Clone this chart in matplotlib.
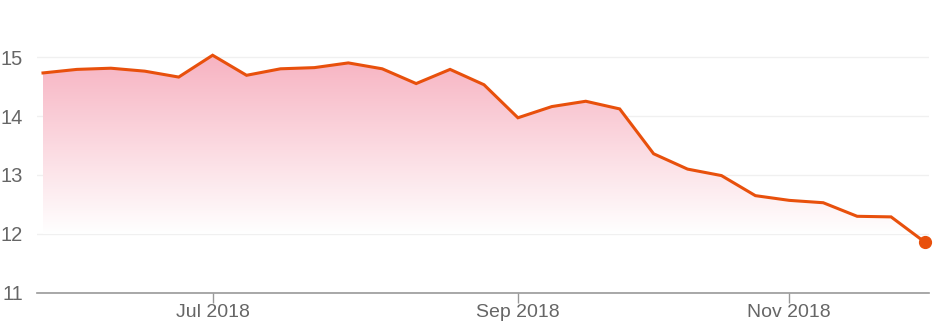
import numpy as np
import matplotlib.pyplot as plt
from matplotlib.colors import LinearSegmentedColormap

# weekly values
values = [14.73, 14.79, 14.81, 14.76, 14.66, 15.03, 14.69, 14.80, 14.82, 14.90,
          14.80, 14.55, 14.79, 14.53, 13.97, 14.16, 14.25, 14.12, 13.36, 13.10,
          12.99, 12.65, 12.57, 12.53, 12.30, 12.29, 11.86]
tick_idx = [5, 14, 22]
tick_labels = ['Jul 2018', 'Sep 2018', 'Nov 2018']
yticks = [11, 12, 13, 14, 15]

line_col = '#e8500c'
pink = '#f7b2c1'
grey = '#666666'

plt.rcParams['font.family'] = ['Liberation Sans', 'DejaVu Sans']

x = np.arange(len(values))
y = np.array(values)

fig = plt.figure(figsize=(9.39, 3.35), dpi=100)
ax = fig.add_axes([37 / 939, 0.1254, 892 / 939, 0.8101])
ax.set_xlim(-0.177, 26.118)
ax.set_ylim(11, 15.6)
ax.set_axisbelow(True)

# gradient fill under the line, fading to white around 12
cmap = LinearSegmentedColormap.from_list('pinkfade', ['#ffffff', pink])
grad = np.linspace(0, 1, 256).reshape(-1, 1)
img = ax.imshow(grad, cmap=cmap, aspect='auto', origin='lower',
                extent=[x[0], x[-1], 12.0, 15.05], zorder=1)
poly = ax.fill_between(x, y, 11, color='none', lw=0)
img.set_clip_path(poly.get_paths()[0], transform=ax.transData)

ax.plot(x, y, color=line_col, lw=2.2, zorder=3, solid_joinstyle='miter')
ax.plot(x[-1], y[-1], 'o', color=line_col, ms=8.5, zorder=4, clip_on=False)

ax.set_yticks(yticks)
ax.set_yticklabels([str(v) for v in yticks])
ax.grid(axis='y', color='#f0f0f0', lw=1)
ax.set_xticks(tick_idx)
ax.set_xticklabels(tick_labels)
ax.tick_params(axis='y', length=0, pad=10, labelsize=14.5, labelcolor=grey)
ax.tick_params(axis='x', length=7, width=1, color='#999999', pad=1,
               labelsize=14, labelcolor=grey)

for s in ['top', 'right', 'left']:
    ax.spines[s].set_visible(False)
ax.spines['bottom'].set_color('#999999')
ax.spines['bottom'].set_linewidth(1.2)

fig.savefig('out.png', dpi=100)
